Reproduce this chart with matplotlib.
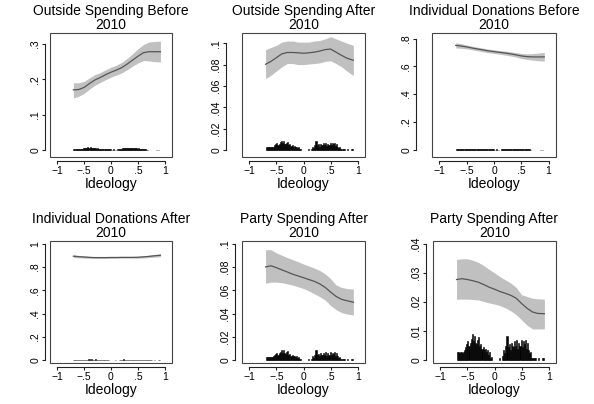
import numpy as np
import matplotlib.pyplot as plt
from matplotlib.patches import Rectangle

plt.rcParams['font.family'] = ['Liberation Sans', 'DejaVu Sans']

# --- data ---
xs = [-0.7, -0.6, -0.5, -0.4, -0.3, -0.2, -0.1, 0.0, 0.1, 0.2, 0.3, 0.4, 0.5, 0.6, 0.7, 0.8, 0.92]

out_before = [0.170, 0.171, 0.177, 0.188, 0.198, 0.205, 0.213, 0.220, 0.226, 0.233, 0.243, 0.254, 0.265, 0.275, 0.278, 0.278, 0.278]
out_before_lo = [0.147, 0.152, 0.160, 0.172, 0.183, 0.191, 0.199, 0.206, 0.212, 0.218, 0.227, 0.237, 0.246, 0.253, 0.252, 0.250, 0.249]
out_before_hi = [0.190, 0.190, 0.194, 0.204, 0.213, 0.219, 0.227, 0.234, 0.240, 0.248, 0.259, 0.272, 0.286, 0.298, 0.305, 0.307, 0.308]

out_after = [0.0803, 0.083, 0.0865, 0.090, 0.0913, 0.0913, 0.091, 0.0906, 0.091, 0.0916, 0.0926, 0.094, 0.0945, 0.0916, 0.0887, 0.086, 0.084]
out_after_lo = [0.067, 0.070, 0.074, 0.078, 0.081, 0.081, 0.080, 0.080, 0.0805, 0.081, 0.0816, 0.083, 0.0835, 0.081, 0.078, 0.074, 0.0697]
out_after_hi = [0.094, 0.096, 0.098, 0.101, 0.102, 0.102, 0.101, 0.101, 0.101, 0.102, 0.1025, 0.104, 0.106, 0.104, 0.102, 0.100, 0.098]

ind_before = [0.751, 0.746, 0.740, 0.732, 0.725, 0.718, 0.711, 0.706, 0.701, 0.696, 0.690, 0.683, 0.675, 0.670, 0.668, 0.668, 0.668]
ind_before_lo = [0.732, 0.730, 0.726, 0.719, 0.712, 0.705, 0.698, 0.693, 0.688, 0.682, 0.675, 0.667, 0.657, 0.650, 0.645, 0.641, 0.638]
ind_before_hi = [0.770, 0.763, 0.754, 0.745, 0.738, 0.731, 0.724, 0.719, 0.714, 0.710, 0.705, 0.699, 0.693, 0.690, 0.691, 0.695, 0.700]

ind_after = [0.892, 0.888, 0.885, 0.882, 0.880, 0.880, 0.880, 0.881, 0.881, 0.882, 0.882, 0.882, 0.883, 0.886, 0.890, 0.895, 0.900]
ind_after_lo = [0.880, 0.878, 0.876, 0.874, 0.873, 0.873, 0.873, 0.874, 0.874, 0.875, 0.875, 0.875, 0.875, 0.877, 0.880, 0.884, 0.887]
ind_after_hi = [0.904, 0.898, 0.894, 0.890, 0.887, 0.887, 0.887, 0.888, 0.888, 0.889, 0.889, 0.889, 0.891, 0.895, 0.900, 0.906, 0.913]

party_a = [0.0800, 0.0810, 0.0794, 0.0775, 0.0757, 0.0738, 0.0723, 0.0708, 0.0692, 0.0677, 0.0655, 0.0625, 0.0585, 0.0548, 0.0523, 0.0511, 0.0498]
party_a_lo = [0.0660, 0.0670, 0.0670, 0.0665, 0.0655, 0.0645, 0.0630, 0.0615, 0.0595, 0.0570, 0.0545, 0.0517, 0.0470, 0.0435, 0.0410, 0.0398, 0.0388]
party_a_hi = [0.0948, 0.0948, 0.0920, 0.0900, 0.0880, 0.0862, 0.0845, 0.0825, 0.0808, 0.0790, 0.0770, 0.0740, 0.0700, 0.0646, 0.0625, 0.0615, 0.0610]

party_b = [0.0277, 0.0280, 0.0277, 0.0273, 0.0268, 0.0260, 0.0251, 0.0244, 0.0236, 0.0230, 0.0223, 0.0213, 0.0195, 0.0179, 0.0166, 0.0161, 0.0160]
party_b_lo = [0.0210, 0.0210, 0.0210, 0.0209, 0.0207, 0.0202, 0.0197, 0.0193, 0.0188, 0.0180, 0.0170, 0.0157, 0.0139, 0.0121, 0.0108, 0.0108, 0.0108]
party_b_hi = [0.0346, 0.0348, 0.0348, 0.0343, 0.0336, 0.0325, 0.0312, 0.0300, 0.0287, 0.0276, 0.0265, 0.0250, 0.0225, 0.0219, 0.0213, 0.0211, 0.0210]

# histogram of ideology (bin width .02, left edges from -.70), units of .001
bin_left = np.round(np.arange(-0.70, 0.91, 0.02), 2)
hist_after = [2.8, 2.8, 2.6, 2.8, 2.8, 2.7, 3.0, 3.5, 4.5, 5.5,
              6.5, 5.0, 6.0, 7.5, 9.0, 6.5, 8.5, 6.0, 5.5, 7.0,
              8.0, 5.0, 5.5, 4.0, 4.5, 3.5, 4.0, 3.0, 3.5, 2.0,
              2.8, 1.0, 1.2, 0, 0, 0, 0, 0, 0, 1.0,
              0, 0, 1.5, 3.5, 2.5, 5.0, 8.5, 4.5, 5.5, 3.5,
              6.0, 5.0, 4.5, 6.5, 5.0, 7.0, 4.0, 6.0, 5.0, 7.0,
              4.5, 6.5, 5.5, 7.0, 4.0, 6.0, 3.5, 2.5, 3.0, 1.0,
              1.0, 0.8, 1.0, 0, 0, 1.0, 0, 0, 0, 1.0,
              1.0]
hist_before = [3.0, 3.0, 2.8, 3.0, 3.0, 3.2, 3.0, 3.5, 4.0, 4.5,
               5.0, 5.5, 6.0, 7.0, 6.5, 7.5, 6.0, 5.5, 5.0, 5.5,
               4.5, 4.0, 4.5, 3.5, 3.0, 3.5, 3.0, 2.5, 3.0, 2.5,
               2.0, 2.5, 1.5, 2.0, 1.5, 0, 1.0, 1.5, 0, 1.0,
               0, 1.5, 2.0, 3.0, 3.5, 4.5, 5.5, 6.5, 5.5, 6.0,
               6.5, 5.5, 6.0, 5.0, 5.5, 6.0, 5.0, 4.5, 5.0, 4.0,
               4.5, 3.5, 3.0, 3.5, 3.0, 2.0, 2.5, 1.5, 1.0, 0,
               0, 0, 0, 0, 0, 0, 0, 1.0, 0, 1.0,
               0]

titles = ['Outside Spending Before\n2010', 'Outside Spending After\n2010',
          'Individual Donations Before\n2010', 'Individual Donations After\n2010',
          'Party Spending After\n2010', 'Party Spending After\n2010']
yticks = [[0, .1, .2, .3], [0, .02, .04, .06, .08, .1], [0, .2, .4, .6, .8],
          [0, .2, .4, .6, .8, 1], [0, .02, .04, .06, .08, .1], [0, .01, .02, .03, .04]]
ytick_labels = [['0', '.1', '.2', '.3'], ['0', '.02', '.04', '.06', '.08', '.1'],
                ['0', '.2', '.4', '.6', '.8'], ['0', '.2', '.4', '.6', '.8', '1'],
                ['0', '.02', '.04', '.06', '.08', '.1'], ['0', '.01', '.02', '.03', '.04']]
ylims = [(-0.02, 0.331), (-0.0063, 0.1095), (-0.0525, 0.84),
         (-0.022, 1.022), (-0.0022, 0.1022), (-0.00087, 0.0409)]
series = [(out_before, out_before_lo, out_before_hi, hist_before),
          (out_after, out_after_lo, out_after_hi, hist_after),
          (ind_before, ind_before_lo, ind_before_hi, hist_before),
          (ind_after, ind_after_lo, ind_after_hi, hist_after),
          (party_a, party_a_lo, party_a_hi, hist_after),
          (party_b, party_b_lo, party_b_hi, hist_after)]

# box positions in pixels (left, top, right, bottom) and y-axis offset in px
boxes = [(50, 33, 172, 157), (242, 33, 365, 157), (432, 33, 556, 157),
         (50, 241, 172, 363), (242, 241, 365, 363), (433, 241, 556, 363)]
yoff = [5, 16, 16, 5, 7, 7]

W, H = 594, 404
fig = plt.figure(figsize=(W / 100, H / 100), dpi=100)

for i in range(6):
    l, t, r, b = boxes[i]
    ax = fig.add_axes([l / W, 1 - b / H, (r - l) / W, (b - t) / H])
    y, lo, hi, hist = series[i]
    ax.fill_between(xs, lo, hi, color='#c0c0c0', lw=0, zorder=1)
    ax.plot(xs, y, color='#555555', lw=0.9, zorder=2)
    h = np.array(hist) * 0.001
    keep = h > 0
    ax.bar(bin_left[keep] + 0.01, h[keep], width=0.02, color='black',
           edgecolor='black', lw=0.4, zorder=3)
    ax.set_xlim(-1.135, 1.135)
    ax.set_ylim(*ylims[i])

    ax.spines['top'].set_visible(False)
    ax.spines['right'].set_visible(False)
    ax.spines['left'].set_position(('outward', yoff[i] * 0.72))
    ax.spines['bottom'].set_position(('outward', 4 * 0.72))
    ax.spines['left'].set_bounds(yticks[i][0], yticks[i][-1])
    ax.spines['bottom'].set_bounds(-1, 1)
    for s in ['left', 'bottom']:
        ax.spines[s].set_linewidth(0.8)
        ax.spines[s].set_color('#222222')
    ax.add_patch(Rectangle((0, 0), 1, 1, transform=ax.transAxes, fill=False,
                           ec='#444444', lw=0.8, clip_on=False, zorder=5))

    ax.set_xticks([-1, -0.5, 0, 0.5, 1])
    ax.set_xticklabels(['\u22121', '\u2212.5', '0', '.5', '1'])
    ax.set_yticks(yticks[i])
    ax.set_yticklabels(ytick_labels[i], rotation=90, va='center')
    ax.tick_params(labelsize=7.5, length=2.5, width=0.8, pad=1, color='#222222')
    ax.set_xlabel('Ideology', fontsize=10, labelpad=0.5)
    ax.set_title(titles[i], fontsize=10, linespacing=0.95, pad=3)

fig.savefig('out.png', dpi=100, facecolor='white')
